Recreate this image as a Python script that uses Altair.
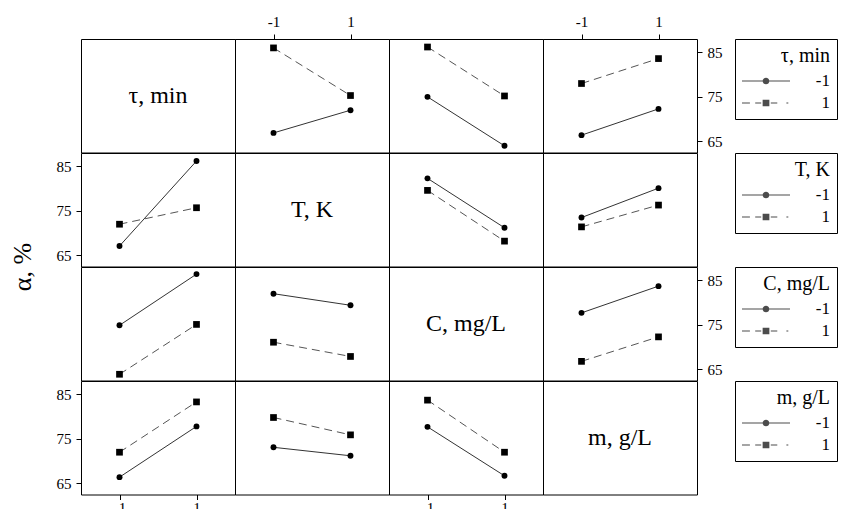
import altair as alt
import pandas as pd

factors = ["τ, min", "T, K", "C, mg/L", "m, g/L"]
levels = [-1, 1]
y_ticks = [65, 75, 85]
x_ticks = [-1, 1]

# mean α (%) per panel: [trace=-1 @ x=-1, trace=-1 @ x=1, trace=1 @ x=-1, trace=1 @ x=1]
tau_by_T = [66.9, 72.0, 86.0, 75.3]
tau_by_C = [75.0, 64.0, 86.2, 75.2]
tau_by_m = [66.4, 72.3, 78.0, 83.6]
T_by_tau = [67.1, 86.2, 72.0, 75.7]
T_by_C = [82.3, 71.2, 79.6, 68.2]
T_by_m = [73.5, 80.1, 71.4, 76.3]
C_by_tau = [74.9, 86.4, 63.9, 75.1]
C_by_T = [82.0, 79.4, 71.1, 67.9]
C_by_m = [77.7, 83.7, 66.8, 72.3]
m_by_tau = [66.4, 77.8, 72.0, 83.3]
m_by_T = [73.1, 71.2, 79.8, 75.9]
m_by_C = [77.7, 66.7, 83.7, 72.0]

panel_values = {
    (0, 1): tau_by_T, (0, 2): tau_by_C, (0, 3): tau_by_m,
    (1, 0): T_by_tau, (1, 2): T_by_C, (1, 3): T_by_m,
    (2, 0): C_by_tau, (2, 1): C_by_T, (2, 3): C_by_m,
    (3, 0): m_by_tau, (3, 1): m_by_T, (3, 2): m_by_C,
}

rows = []
for (r, c), vals in panel_values.items():
    k = 0
    for lvl in levels:
        for xv in levels:
            rows.append({"r": r, "c": c, "lvl": lvl, "x": xv, "y": vals[k]})
            k += 1
df = pd.DataFrame(rows)

W, H = 154, 113.5
FONT = "Liberation Serif, Times New Roman, serif"
XS = alt.Scale(domain=[-2, 2], nice=False, zero=False)
YS = alt.Scale(domain=[62.5, 88], nice=False, zero=False)

SOLID_SYM = ("M-1,-0.021H-0.14V0.021H-1Z M0.14,-0.021H1V0.021H0.14Z "
             "M-0.14,0A0.14,0.14 0 1,1 0.14,0A0.14,0.14 0 1,1 -0.14,0Z")
DASH_SYM = ("M-1,-0.021H-0.67V0.021H-1Z M-0.45,-0.021H-0.2V0.021H-0.45Z "
            "M-0.14,-0.14H0.14V0.14H-0.14Z M0.2,-0.021H0.47V0.021H0.2Z "
            "M0.85,-0.021H0.93V0.021H0.85Z")


def x_axis(r, c):
    if r == 0 and c in (1, 3):
        return alt.Axis(orient="top", values=x_ticks, labelExpr="'' + datum.value", title=None)
    if r == 3 and c in (0, 2):
        return alt.Axis(orient="bottom", values=x_ticks, labelExpr="'' + datum.value",
                        title=None, labelPadding=1)
    return None


def y_axis(r, c):
    if c == 0 and r == 1:
        return alt.Axis(orient="left", values=y_ticks, title="α, %", titleX=-51, titleY=H,
                        titleAngle=270, titleAlign="center", titleBaseline="alphabetic",
                        titleFontSize=26, titleFontWeight="normal", titleFont=FONT,
                        titleColor="black")
    if c == 0 and r == 3:
        return alt.Axis(orient="left", values=y_ticks, title=None)
    if c == 3 and r in (0, 2):
        return alt.Axis(orient="right", values=y_ticks, title=None)
    return None


def legend_layer(r):
    return alt.Chart(df).transform_filter("false").mark_point(
        filled=True, color="black", size=2304
    ).encode(
        shape=alt.Shape(
            "lvl:N",
            scale=alt.Scale(domain=levels, range=[SOLID_SYM, DASH_SYM]),
            legend=alt.Legend(
                title=factors[r], orient="none", legendX=192, legendY=0,
                strokeColor="black", fillColor="white", padding=7,
                titleAnchor="end", titleFont=FONT, titleFontSize=20,
                titleFontWeight="normal", titleColor="black", titlePadding=6,
                labelFont=FONT, labelFontSize=17, labelColor="black",
                labelAlign="right", labelOffset=40, symbolSize=2304,
                symbolOffset=0, symbolStrokeWidth=0, symbolFillColor="black",
                clipHeight=18, rowPadding=4, direction="vertical",
            ),
        )
    )


def panel(r, c):
    layers = []
    if r == c:
        names = pd.DataFrame({"name": [factors[r]]})
        layers.append(
            alt.Chart(names).mark_text(font=FONT, fontSize=24, color="black",
                                       align="center", baseline="middle").encode(
                text="name:N", x=alt.value(W / 2), y=alt.value(H / 2))
        )
    else:
        base = alt.Chart(df).transform_filter(f"datum.r == {r} && datum.c == {c}")
        enc = dict(
            x=alt.X("x:Q", scale=XS, axis=x_axis(r, c)),
            y=alt.Y("y:Q", scale=YS, axis=y_axis(r, c)),
        )
        low = base.transform_filter("datum.lvl == -1")
        high = base.transform_filter("datum.lvl == 1")
        layers += [
            low.mark_line(color="#333333", strokeWidth=1).encode(**enc),
            high.mark_line(color="#555555", strokeWidth=1, strokeDash=[8, 5]).encode(**enc),
            low.mark_point(shape="circle", filled=True, size=35, color="black", opacity=1).encode(**enc),
            high.mark_point(shape="square", filled=True, size=45, color="black", opacity=1).encode(**enc),
        ]
    if c == 3:
        layers.append(legend_layer(r))
    return alt.layer(*layers).properties(width=W, height=H)


panels = [panel(r, c) for r in range(4) for c in range(4)]

chart = alt.concat(*panels, columns=4, spacing=0, bounds="flush").resolve_scale(
    shape="independent"
).configure(
    font=FONT, padding={"left": 0, "top": 5, "right": 5, "bottom": 5}
).configure_view(
    stroke="black", strokeWidth=1
).configure_axis(
    labelFont=FONT, labelFontSize=15, labelColor="black", tickColor="black",
    tickSize=5, labelPadding=5, domain=False, grid=False
)

chart.save("out.html", embed_options={"renderer": "svg", "actions": False})
